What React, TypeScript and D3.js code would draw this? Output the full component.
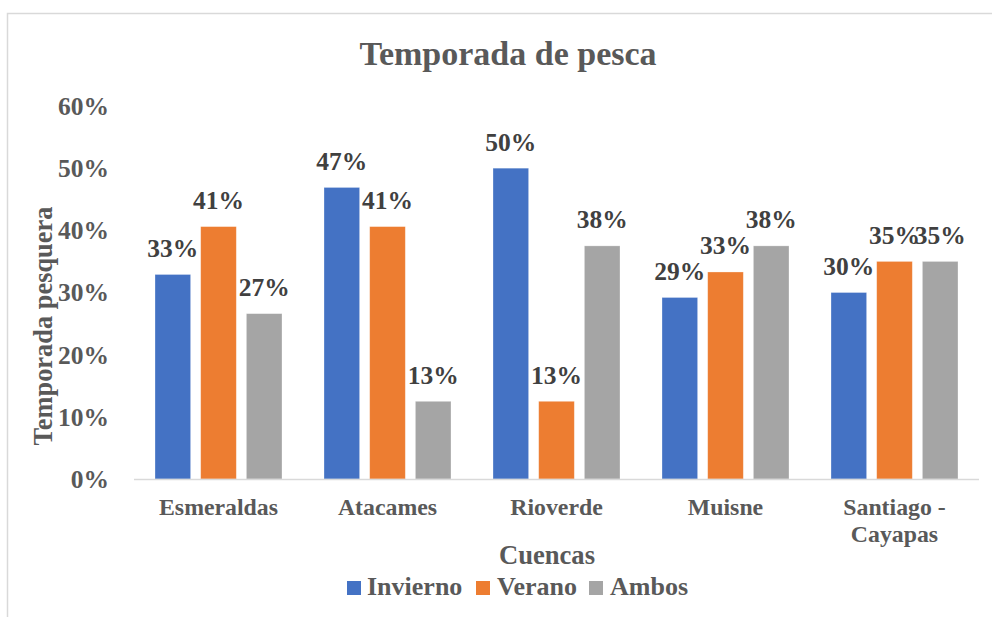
import React from "react";
import * as d3 from "d3";

const categories = ["Esmeraldas", "Atacames", "Rioverde", "Muisne", "Santiago - Cayapas"];
const seriesNames = ["Invierno", "Verano", "Ambos"];
const invierno = [0.329, 0.469, 0.5, 0.292, 0.3];
const verano = [0.406, 0.406, 0.125, 0.333, 0.35];
const ambos = [0.266, 0.125, 0.375, 0.375, 0.35];
const yTicks = [0, 0.1, 0.2, 0.3, 0.4, 0.5, 0.6];
const colors = ["#4472C4", "#ED7D31", "#A5A5A5"];

const W = 992, H = 617;
const FONT = "'Liberation Serif', 'Times New Roman', serif";

export default function App() {
  const values = [invierno, verano, ambos];

  const x0 = d3.scaleBand<string>().domain(categories).range([134, 979]);
  const x1 = d3.scaleBand<string>().domain(seriesNames).range([21, 148]).paddingInner(0.22);
  const y = d3.scaleLinear().domain([0, 0.6]).range([479, 106]);
  const pct = d3.format(".0%");

  return (
    <svg width={W} height={H} style={{ position: "absolute", top: 0, left: 0, background: "#fff" }}
      fontFamily={FONT} fontWeight="bold">
      {/* chart frame */}
      <rect x={7.5} y={13.5} width={W + 20} height={H + 20} fill="#fff" stroke="#d9d9d9" strokeWidth={1.5} />

      <text x={508} y={65} textAnchor="middle" fontSize={34} fill="#595959">Temporada de pesca</text>

      {/* y axis labels */}
      {yTicks.map((t) => (
        <text key={t} x={109} y={y(t)} dy="0.35em" textAnchor="end" fontSize={25.5} fill="#595959">{pct(t)}</text>
      ))}
      <text transform={`translate(52,326) rotate(-90)`} textAnchor="middle" fontSize={26.4} fill="#595959">Temporada pesquera</text>

      {/* bars */}
      {categories.map((c, ci) => (
        <g key={c} transform={`translate(${x0(c)},0)`}>
          {seriesNames.map((s, si) => {
            const v = values[si][ci];
            const bx = x1(s)!;
            return (
              <g key={s}>
                <rect x={bx} y={y(v)} width={x1.bandwidth()} height={y(0) - y(v)} fill={colors[si]}
                  stroke="#fff" strokeOpacity={0.4} strokeWidth={0.75} />
                <text x={bx + x1.bandwidth() / 2} y={y(v) - 17.5} textAnchor="middle" fontSize={25.5} fill="#404040">
                  {pct(v)}
                </text>
              </g>
            );
          })}
        </g>
      ))}

      {/* x axis */}
      <line x1={134} x2={979} y1={479.5} y2={479.5} stroke="#d9d9d9" strokeWidth={1.5} />
      {categories.map((c) => {
        const cx = x0(c)! + x0.bandwidth() / 2;
        const lines = c === "Santiago - Cayapas" ? ["Santiago -", "Cayapas"] : [c];
        return (
          <text key={c} x={cx} y={515} textAnchor="middle" fontSize={23.8} fill="#595959">
            {lines.map((l, i) => (
              <tspan key={l} x={cx} dy={i === 0 ? 0 : 27}>{l}</tspan>
            ))}
          </text>
        );
      })}
      <text x={547} y={564} textAnchor="middle" fontSize={26.6} fill="#595959">Cuencas</text>

      {/* legend */}
      {[
        { sx: 347, tx: 367 },
        { sx: 476, tx: 497 },
        { sx: 589, tx: 610 },
      ].map((p, i) => (
        <g key={seriesNames[i]}>
          <rect x={p.sx} y={581} width={14} height={14} fill={colors[i]} />
          <text x={p.tx} y={595} fontSize={26} fill="#595959">{seriesNames[i]}</text>
        </g>
      ))}
    </svg>
  );
}
